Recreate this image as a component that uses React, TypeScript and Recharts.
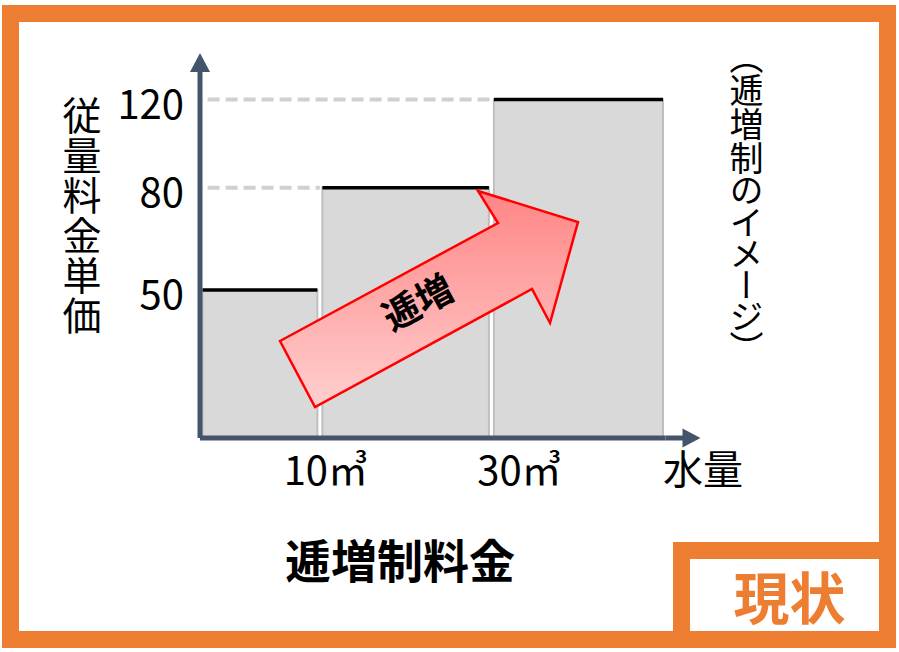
import { ComposedChart, XAxis, YAxis, ReferenceArea, ReferenceLine } from 'recharts';

// 逓増制: 水量の区切り(㎥)と各段階の従量料金単価
const tierBreaks = [10, 30];
const tierPrices = [50, 80, 120];
const xTickLabels = ['10㎥', '30㎥'];
const priceTicks = [50, 80, 120];

const tiers = tierPrices.map((price, i) => ({
  from: tierBreaks[i - 1],
  to: tierBreaks[i],
  price,
}));

// schematic axes: log scales reproduce the picture's uneven spacing
const X_DOMAIN: [number, number] = [4.64, 91.5];
const Y_DOMAIN: [number, number] = [25.3, 136.2];

const AXIS = '#44546A';
const ORANGE = '#ED7D31';
const FONT = '"Noto Sans CJK JP", "Noto Sans", sans-serif';
const tickShift = [6, 28];

const TierShape = (props: any) => {
  const { x, y, width, height } = props;
  return (
    <g>
      <rect x={x + 2.5} y={y} width={width - 5} height={height} fill="#D9D9D9" stroke="#BFBFBF" strokeWidth={2} />
      <line x1={x + 2.5} x2={x + width - 2.5} y1={y} y2={y} stroke="#000" strokeWidth={3.5} />
    </g>
  );
};

const YTick = ({ x, y, payload }: any) => (
  <text x={x} y={y} dy={19} textAnchor="end" fontSize={40} fontFamily={FONT} fill="#000">
    {payload.value}
  </text>
);

const XTick = ({ x, y, payload }: any) => {
  const i = tierBreaks.indexOf(payload.value);
  return (
    <text x={x + (tickShift[i] ?? 0)} y={y} dy={47} textAnchor="middle" fontSize={40} fontFamily={FONT} fill="#000">
      {xTickLabels[i]}
    </text>
  );
};

export default function App() {
  return (
    <div style={{ position: 'absolute', left: 0, top: 0, width: 899, height: 652, background: '#fff', fontFamily: FONT }}>
      <svg width={0} height={0} style={{ position: 'absolute' }}>
        <defs>
          <marker id="xArrow" markerUnits="userSpaceOnUse" orient="auto" refX={0} refY={0} markerWidth={40} markerHeight={20} overflow="visible">
            <path d="M0,-2.5 L17,-2.5 L17,-9.5 L35,0 L17,9.5 L17,2.5 L0,2.5 Z" fill={AXIS} />
          </marker>
          <marker id="yArrow" markerUnits="userSpaceOnUse" orient="auto-start-reverse" refX={0} refY={0} markerWidth={20} markerHeight={20} overflow="visible">
            <path d="M0,-10 L19,0 L0,10 Z" fill={AXIS} />
          </marker>
        </defs>
      </svg>

      {/* orange frame */}
      <div style={{ position: 'absolute', left: 2, top: 5, width: 894, height: 643, border: `17px solid ${ORANGE}`, boxSizing: 'border-box' }} />

      <div style={{ position: 'absolute', left: 0, top: 0 }}>
        <ComposedChart width={899} height={652} data={tiers} margin={{ top: 72, right: 233.5, bottom: 154, left: 0 }}>
          <XAxis
            dataKey="to"
            type="number"
            scale="log"
            domain={X_DOMAIN}
            allowDataOverflow
            ticks={tierBreaks}
            interval={0}
            tick={<XTick />}
            tickLine={false}
            tickSize={0}
            tickMargin={0}
            height={60}
            axisLine={{ stroke: AXIS, strokeWidth: 5, markerEnd: 'url(#xArrow)' }}
          />
          <YAxis
            dataKey="price"
            type="number"
            scale="log"
            domain={Y_DOMAIN}
            allowDataOverflow
            ticks={priceTicks}
            interval={0}
            tick={<YTick />}
            tickLine={false}
            tickSize={0}
            tickMargin={16}
            width={200}
            axisLine={{ stroke: AXIS, strokeWidth: 5, markerStart: 'url(#yArrow)' }}
          />
          {tiers.slice(1).map((t, i) => (
            <ReferenceLine
              key={`d${i}`}
              segment={[{ x: X_DOMAIN[0] * 1.05, y: t.price }, { x: t.from as number, y: t.price }]}
              stroke="#D0D0D0"
              strokeWidth={4}
              strokeDasharray="12 6"
            />
          ))}
          {tiers.map((t, i) => (
            <ReferenceArea key={i} x1={t.from} x2={t.to} y1={Y_DOMAIN[0]} y2={t.price} shape={<TierShape />} />
          ))}
        </ComposedChart>
      </div>

      {/* arrow and labels */}
      <svg width={899} height={652} style={{ position: 'absolute', left: 0, top: 0 }}>
        <defs>
          <linearGradient id="arrowFill" x1="0" y1="0" x2="0" y2="1">
            <stop offset="0%" stopColor="#FF8585" />
            <stop offset="100%" stopColor="#FFCFCF" />
          </linearGradient>
        </defs>
        <polygon
          points="280,341 498,223 478,191 578,222 550,323 532,289 315,407"
          fill="url(#arrowFill)"
          stroke="#FF0000"
          strokeWidth={2.5}
          strokeLinejoin="miter"
        />
        <text x={418} y={303} dy={13} textAnchor="middle" fontSize={37} fontWeight={700} fontFamily={FONT} fill="#000" transform="rotate(-28.4 418 303)">
          逓増
        </text>
        <text x={703} y={484} textAnchor="middle" fontSize={40} fontFamily={FONT} fill="#000">水量</text>
        <text x={400} y={578} textAnchor="middle" fontSize={46} fontWeight={700} fontFamily={FONT} fill="#000">逓増制料金</text>
      </svg>

      <div style={{ position: 'absolute', left: 62, top: 96, writingMode: 'vertical-rl', fontSize: 39, lineHeight: 1, letterSpacing: 1, color: '#000' }}>
        従量料金単価
      </div>
      <div style={{ position: 'absolute', left: 729, top: 56, writingMode: 'vertical-rl', fontSize: 34, lineHeight: 1, color: '#000', fontFeatureSettings: '"vpal"' }}>
        （逓増制のイメージ）
      </div>

      {/* 現状 box */}
      <div style={{ position: 'absolute', left: 673, top: 542, width: 223, height: 106, border: `17px solid ${ORANGE}`, boxSizing: 'border-box', background: '#fff', display: 'flex', alignItems: 'center', justifyContent: 'center' }}>
        <span style={{ color: ORANGE, fontSize: 56, fontWeight: 700, lineHeight: 1, marginLeft: 10 }}>現状</span>
      </div>
    </div>
  );
}
